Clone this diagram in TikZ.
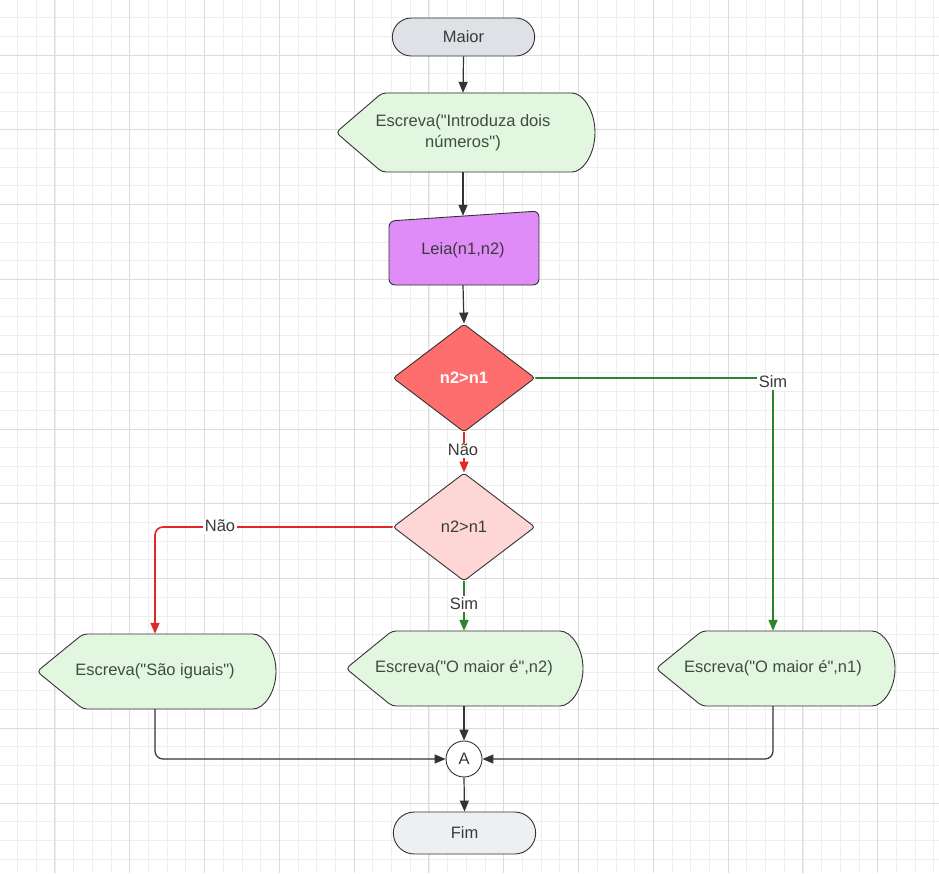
\documentclass[tikz,border=0pt]{standalone}
\usepackage{fontspec}
\setmainfont{Liberation Sans}[Ligatures=TeXOff]
\usetikzlibrary{shapes.geometric,shapes.misc,arrows.meta}
\definecolor{gridminor}{HTML}{EEEEEE}
\definecolor{gridmajor}{HTML}{DCDCDC}
\definecolor{edgegray}{HTML}{333333}
\definecolor{txtgray}{HTML}{3A3A3A}
\definecolor{txtgreen}{HTML}{3E4E3E}
\definecolor{termfill}{HTML}{DEE1E6}
\definecolor{fimfill}{HTML}{EDEFF2}
\definecolor{dispfill}{HTML}{E3F7E0}
\definecolor{violetfill}{HTML}{DF8CF8}
\definecolor{redfill}{HTML}{FF6E6E}
\definecolor{pinkfill}{HTML}{FFD6D6}
\definecolor{redline}{HTML}{E4252B}
\definecolor{greenline}{HTML}{2B862B}
\newcommand\dispshape[4]{%
  \filldraw[shapeline,fill=dispfill]
    ({#1},{(#3+#4)/2}) -- ({#1+46},{#3}) -- ({#2-27},{#3})
    arc[start angle=-90,end angle=90,x radius=27,y radius={(#4-#3)/2}]
    -- ({#1+46},{#4}) -- cycle;}
\begin{document}
\begin{tikzpicture}[x=1pt,y=-1pt,
  font=\fontsize{16.5}{21}\selectfont,
  shapeline/.style={draw=edgegray,line width=0.9pt,rounded corners=4pt},
  term/.style={rounded rectangle,draw=edgegray,line width=0.9pt,minimum width=149pt,text=txtgray},
  txtnode/.style={inner sep=0pt,text=txtgreen,align=center},
  decision/.style={diamond,draw=edgegray,line width=0.9pt,aspect=1.315,minimum width=142pt,minimum height=108pt,inner sep=0pt,rounded corners=3pt},
  conn/.style={draw=edgegray,line width=1.2pt,-{Triangle[length=11pt,width=9pt]}},
  redc/.style={draw=redline,line width=1.6pt,rounded corners=8pt,-{Triangle[length=11pt,width=9pt]}},
  greenc/.style={draw=greenline,line width=1.6pt,rounded corners=8pt,-{Triangle[length=11pt,width=9pt]}},
  lbl/.style={fill=white,inner sep=1.5pt,text=txtgray},
  darrow/.style={draw=edgegray,line width=1.2pt,rounded corners=8pt,-{Triangle[length=11pt,width=9pt]}}
]
\useasboundingbox (0,0) rectangle (939,873);
\clip (0,0) rectangle (939,873);
\fill[white] (0,0) rectangle (939,873);
% grid
\foreach \i in {0,...,51} {\draw[gridminor,line width=0.6pt] ({-1.3+18.7*\i},0) -- ({-1.3+18.7*\i},873);}
\foreach \i in {0,...,47} {\draw[gridminor,line width=0.6pt] (0,{-1.3+18.7*\i}) -- (939,{-1.3+18.7*\i});}
\foreach \i in {0,...,12} {\draw[gridmajor,line width=0.8pt] ({54.8+74.8*\i},0) -- ({54.8+74.8*\i},873);}
\foreach \i in {0,...,11} {\draw[gridmajor,line width=0.8pt] (0,{55+74.8*\i}) -- (939,{55+74.8*\i});}

% shapes drawn as paths
\dispshape{336}{595}{93}{172}
\dispshape{37}{276}{634}{709}
\dispshape{346}{583}{631}{706}
\dispshape{656}{895}{631}{706}
\filldraw[shapeline,fill=violetfill,rounded corners=6pt] (389,221) -- (539,211) -- (539,285) -- (389,285) -- cycle;

% nodes
\node[term,fill=termfill,minimum height=38pt] (maior) at (463.5,37) {Maior};
\node[txtnode,minimum height=79pt] (intro) at (463,132.5) {Escreva("Introduza dois\\números")};
\node[txtnode,text=txtgray,minimum height=69pt] (leia) at (463,250.5) {Leia(n1,n2)};
\node[decision,fill=redfill,text=white,font=\fontsize{16.5}{21}\selectfont\bfseries] (dm1) at (464,378) {n2>n1};
\node[decision,fill=pinkfill,text=txtgray] (dm2) at (464,527) {n2>n1};
\node[txtnode,minimum height=75pt] (d1) at (155,671.5) {Escreva("São iguais")};
\node[txtnode,minimum height=75pt] (d2) at (464,668.5) {Escreva("O maior é",n2)};
\node[txtnode,minimum height=75pt] (d3) at (773,668.5) {Escreva("O maior é",n1)};
\node[circle,draw=edgegray,line width=0.9pt,fill=white,minimum size=36pt,inner sep=0pt,text=txtgray] (A) at (464,759) {A};
\node[term,fill=fimfill,minimum height=42pt] (fim) at (464.5,833) {Fim};

% connectors
\draw[conn] (maior.south) -- (intro.north);
\draw[conn] (intro.south) -- (leia.north);
\draw[conn] (leia.south) -- (dm1.north);
\draw[redc] (dm1.south) -- (dm2.north);
\draw[greenc] (dm1.east) -| (d3.north);
\draw[redc] (dm2.west) -| (d1.north);
\draw[greenc] (dm2.south) -- (d2.north);
\draw[darrow] (d1.south) |- (A.west);
\draw[conn] (d2.south) -- (A.north);
\draw[darrow] (d3.south) |- (A.east);
\draw[conn] (A.south) -- (fim.north);

% labels
\node[lbl] (l1) at (463,450) {Não};
\node[lbl] (l2) at (773,382) {Sim};
\node[lbl] (l3) at (220,526) {Não};
\node[lbl] (l4) at (464,604) {Sim};
\end{tikzpicture}
\end{document}
